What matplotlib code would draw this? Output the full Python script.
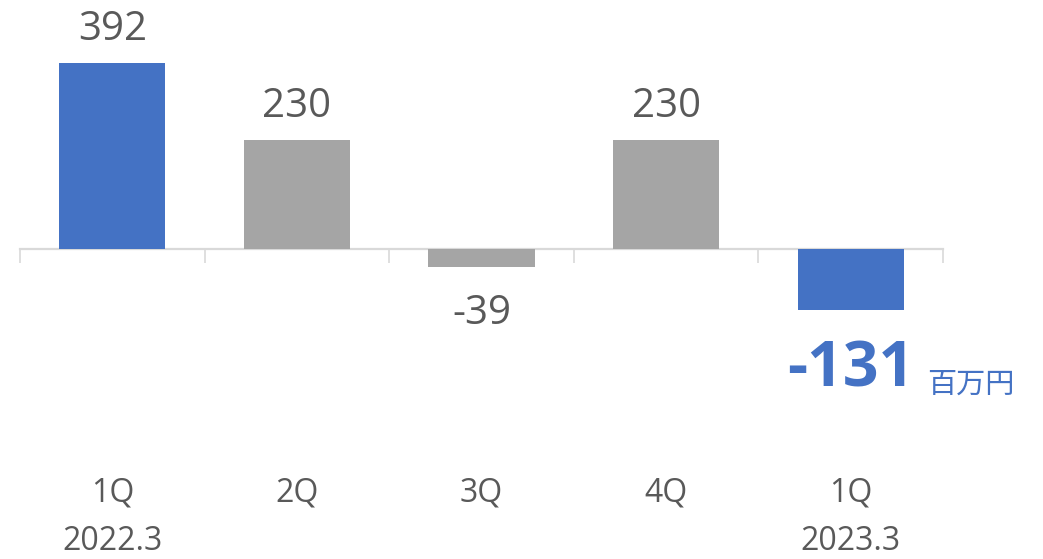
import matplotlib
matplotlib.use("Agg")
import matplotlib.pyplot as plt
import matplotlib.transforms as mtransforms

# Quarterly figures (million yen)
quarters = ["1Q", "2Q", "3Q", "4Q", "1Q"]
periods = ["2022.3", "", "", "", "2023.3"]
values = [392, 230, -39, 230, -131]
highlight = [True, False, False, False, True]
unit_label = "百万円"

BLUE = "#4472C4"
GRAY = "#A5A5A5"
TEXT = "#595959"
AXIS = "#D9D9D9"
NUM_FONT = ["Open Sans", "DejaVu Sans"]
CJK_FONT = ["Noto Sans CJK JP", "DejaVu Sans"]

W, H, DPI = 1043, 559, 100
fig = plt.figure(figsize=(W / DPI, H / DPI), dpi=DPI)
ax = fig.add_axes([20 / W, 0, 923 / W, 1])

# vertical scale: zero line at 248.5 px from top, 0.472 px per unit
zero_px, px_per_unit = 248.5, 0.472
ax.set_ylim(-(H - zero_px) / px_per_unit, zero_px / px_per_unit)
ax.set_xlim(-0.5, len(values) - 0.5)

x = list(range(len(values)))
colors = [BLUE if h else GRAY for h in highlight]
ax.bar(x, values, width=0.575, color=colors, zorder=2)

# axis at zero with category boundary ticks
for s in ["top", "right", "left"]:
    ax.spines[s].set_visible(False)
ax.spines["bottom"].set_position(("data", 0))
ax.spines["bottom"].set_color(AXIS)
ax.spines["bottom"].set_linewidth(1.6)
ax.spines["bottom"].set_zorder(1)
ax.set_xticks([i - 0.5 for i in range(len(values) + 1)])
ax.set_xticklabels([])
ax.tick_params(axis="x", direction="out", length=10, width=1.2, color=AXIS)
ax.set_yticks([])

# value labels
for i, v in enumerate(values):
    last = i == len(values) - 1
    if last:
        ax.annotate(f"{v}", xy=(i, v), xytext=(0, -43), textcoords="offset points",
                    ha="center", va="center", fontsize=45, fontweight="bold",
                    color=BLUE, family=NUM_FONT)
    else:
        off = 24 if v >= 0 else -34
        ax.annotate(f"{v}", xy=(i, v), xytext=(0, off), textcoords="offset points",
                    ha="center", va="center", fontsize=29, color=TEXT,
                    family=NUM_FONT)

# unit label next to the last value
ax.text(927 / W, 1 - 393 / H, unit_label, transform=fig.transFigure,
        ha="left", va="baseline", fontsize=21, color=BLUE, family=CJK_FONT)

# category labels
trans = mtransforms.blended_transform_factory(ax.transData, fig.transFigure)
for i, (q, p) in enumerate(zip(quarters, periods)):
    ax.text(i, 1 - 493 / H, q, transform=trans, ha="center", va="center",
            fontsize=23, color=TEXT, family=NUM_FONT)
    if p:
        ax.text(i, 1 - 542 / H, p, transform=trans, ha="center", va="center",
                fontsize=23, color=TEXT, family=NUM_FONT)

fig.savefig("out.png", dpi=DPI)
